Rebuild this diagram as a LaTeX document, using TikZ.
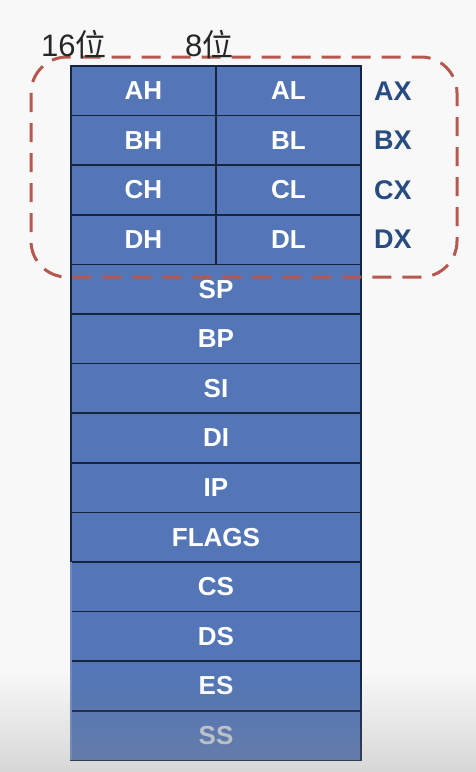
\documentclass[tikz,border=0pt]{standalone}
\usepackage{fontspec}
\setmainfont{Liberation Sans}
\newfontfamily\cjk{Noto Sans CJK SC}
\usetikzlibrary{fadings}
\definecolor{regfill}{RGB}{84,118,182}
\definecolor{regline}{RGB}{22,36,64}
\definecolor{xlab}{RGB}{40,76,128}
\definecolor{dashred}{RGB}{182,88,78}
\definecolor{bgc}{RGB}{248,248,248}
\begin{document}
\begin{tikzpicture}[x=1pt,y=1pt,
  regbox/.style={draw=regline, line width=1.5pt, fill=regfill, text=white,
    font=\bfseries\fontsize{26}{26}\selectfont, inner sep=0pt, outer sep=0pt,
    anchor=north west, minimum height=49.6pt},
  halfbox/.style={regbox, minimum width=145pt},
  fullbox/.style={regbox, minimum width=290pt},
  pairlab/.style={text=xlab, font=\bfseries\fontsize{27}{27}\selectfont, anchor=west, inner sep=0pt},
  bitlab/.style={text=black!85, font=\fontsize{31}{31}\selectfont, anchor=base west, inner sep=0pt}
]
\useasboundingbox (0,0) rectangle (476,-772);
\fill[bgc] (0,0) rectangle (476,-772);
% split rows
\node[halfbox] (AH) at (71,-66) {AH};
\node[halfbox] (AL) at (216,-66) {AL};
\node[halfbox] (BH) at (71,-115.6) {BH};
\node[halfbox] (BL) at (216,-115.6) {BL};
\node[halfbox] (CH) at (71,-165.2) {CH};
\node[halfbox] (CL) at (216,-165.2) {CL};
\node[halfbox] (DH) at (71,-214.8) {DH};
\node[halfbox] (DL) at (216,-214.8) {DL};
% full rows
\foreach \n [count=\i] in {SP,BP,SI,DI,IP,FLAGS,CS,DS,ES}
  \node[fullbox] (\n) at (71,{-66-(\i+3)*49.6}) {\n};
\node[fullbox, text={rgb,255:red,200;green,206;blue,216}] (SS) at (71,{-66-13*49.6}) {SS};
% lighter left edge of the lower rows
\draw[regfill!85!white, line width=1.5pt] (CS.north west) -- (SS.south west);
% bottom fade
\fill[black!45, opacity=0.3, path fading=north] (0,-672) rectangle (476,-772);
% dashed group
\draw[dashred, line width=3pt, dash pattern=on 19pt off 11pt, rounded corners=36pt]
  (31,-57) rectangle (457,-277);
% pair labels
\node[pairlab] (AX) at (374,-90.8) {AX};
\node[pairlab] (BX) at (374,-140.4) {BX};
\node[pairlab] (CX) at (374,-190) {CX};
\node[pairlab] (DX) at (374,-239.6) {DX};
% bit labels
\node[bitlab] (b16) at (41,-56) {16{\cjk 位}};
\node[bitlab] (b8) at (185,-56) {8{\cjk 位}};
\end{tikzpicture}
\end{document}
